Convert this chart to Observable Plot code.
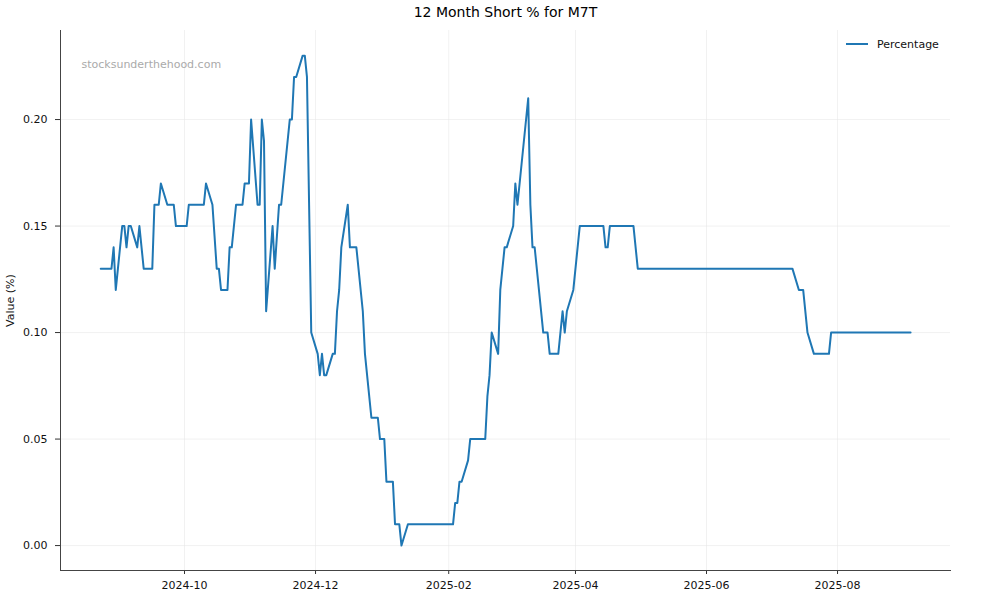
<!DOCTYPE html>
<html>
<head>
<meta charset="utf-8">
<script src="https://cdn.jsdelivr.net/npm/d3@7"></script>
<script src="https://cdn.jsdelivr.net/npm/@observablehq/plot@0.6"></script>
<style>
  html, body { margin: 0; padding: 0; background: #fff; }
  #chart { width: 1000px; height: 600px; }
</style>
</head>
<body>
<div id="chart"></div>
<script>
const titleText = "12 Month Short % for M7T";
const yLabel = "Value (%)";
const watermark = "stocksunderthehood.com";
const seriesName = "Percentage";

const dates = [
  "2024-08-23","2024-08-28","2024-08-29","2024-08-30","2024-09-02","2024-09-03","2024-09-04","2024-09-05","2024-09-06","2024-09-09",
  "2024-09-10","2024-09-12","2024-09-16","2024-09-17","2024-09-19","2024-09-20","2024-09-23","2024-09-26","2024-09-27","2024-10-02",
  "2024-10-03","2024-10-10","2024-10-11","2024-10-14","2024-10-16","2024-10-17","2024-10-18","2024-10-21","2024-10-22","2024-10-23",
  "2024-10-25","2024-10-28","2024-10-29","2024-10-31","2024-11-01","2024-11-04","2024-11-05","2024-11-06","2024-11-07","2024-11-08",
  "2024-11-11","2024-11-12","2024-11-14","2024-11-15","2024-11-19","2024-11-20","2024-11-21","2024-11-22","2024-11-25","2024-11-26",
  "2024-11-27","2024-11-29","2024-12-02","2024-12-03","2024-12-04","2024-12-05","2024-12-06","2024-12-09","2024-12-10","2024-12-11",
  "2024-12-12","2024-12-13","2024-12-16","2024-12-17","2024-12-20","2024-12-23","2024-12-24","2024-12-27","2024-12-30","2024-12-31",
  "2025-01-02","2025-01-03","2025-01-06","2025-01-07","2025-01-09","2025-01-10","2025-01-13","2025-02-03","2025-02-04","2025-02-05",
  "2025-02-06","2025-02-07","2025-02-10","2025-02-11","2025-02-18","2025-02-19","2025-02-20","2025-02-21","2025-02-24","2025-02-25",
  "2025-02-27","2025-02-28","2025-03-03","2025-03-04","2025-03-05","2025-03-10","2025-03-11","2025-03-12","2025-03-13","2025-03-17",
  "2025-03-19","2025-03-20","2025-03-24","2025-03-26","2025-03-27","2025-03-28","2025-03-31","2025-04-03","2025-04-14","2025-04-15",
  "2025-04-16","2025-04-17","2025-04-28","2025-04-30","2025-07-11","2025-07-14","2025-07-16","2025-07-18","2025-07-21","2025-07-28",
  "2025-07-29","2025-09-04"
];
const values = [
  0.13,0.13,0.14,0.12,0.15,0.15,0.14,0.15,0.15,0.14,
  0.15,0.13,0.13,0.16,0.16,0.17,0.16,0.16,0.15,0.15,
  0.16,0.16,0.17,0.16,0.13,0.13,0.12,0.12,0.14,0.14,
  0.16,0.16,0.17,0.17,0.20,0.16,0.16,0.20,0.19,0.11,
  0.15,0.13,0.16,0.16,0.20,0.20,0.22,0.22,0.23,0.23,
  0.22,0.10,0.09,0.08,0.09,0.08,0.08,0.09,0.09,0.11,
  0.12,0.14,0.16,0.14,0.14,0.11,0.09,0.06,0.06,0.05,
  0.05,0.03,0.03,0.01,0.01,0.00,0.01,0.01,0.02,0.02,
  0.03,0.03,0.04,0.05,0.05,0.07,0.08,0.10,0.09,0.12,
  0.14,0.14,0.15,0.17,0.16,0.21,0.16,0.14,0.14,0.10,
  0.10,0.09,0.09,0.11,0.10,0.11,0.12,0.15,0.15,0.14,
  0.14,0.15,0.15,0.13,0.13,0.12,0.12,0.10,0.09,0.09,
  0.10,0.10
];
const xTicks = ["2024-10-01","2024-12-01","2025-02-01","2025-04-01","2025-06-01","2025-08-01"];
const yTicks = [0, 0.05, 0.10, 0.15, 0.20];
const xDomain = ["2024-08-04T06:30:00Z","2025-09-22T14:00:00Z"];
const yDomain = [-0.0117, 0.2418];

const data = dates.map((d, i) => ({date: new Date(d + "T00:00:00Z"), value: values[i]}));
const xTickDates = xTicks.map(d => new Date(d + "T00:00:00Z"));

const font = "'DejaVu Sans', sans-serif";
const plot = Plot.plot({
  width: 1000,
  height: 600,
  marginLeft: 60,
  marginRight: 50,
  marginTop: 30,
  marginBottom: 30,
  style: {fontFamily: font, fontSize: "11px", background: "#fff", color: "#222", overflow: "visible"},
  x: {type: "utc", domain: xDomain.map(d => new Date(d))},
  y: {domain: yDomain},
  marks: [
    Plot.gridX(xTickDates, {stroke: "#e6e6e6", strokeOpacity: 0.7, strokeWidth: 0.8}),
    Plot.gridY(yTicks, {stroke: "#e6e6e6", strokeOpacity: 0.7, strokeWidth: 0.8}),
    Plot.axisX(xTickDates, {tickFormat: d3.utcFormat("%Y-%m"), tickSize: 4, tickPadding: 7, label: null, stroke: "#333", fill: "#111"}),
    Plot.axisY(yTicks, {tickFormat: d3.format(".2f"), tickSize: 5, tickPadding: 8, label: yLabel, labelAnchor: "center", labelArrow: "none", labelOffset: 54, stroke: "#333", fill: "#111"}),
    Plot.frame({anchor: "left", stroke: "#444", strokeWidth: 1}),
    Plot.frame({anchor: "bottom", stroke: "#444", strokeWidth: 1}),
    Plot.lineY(data, {x: "date", y: "value", stroke: "#1f77b4", strokeWidth: 2}),
    Plot.text([titleText], {frameAnchor: "top", dy: -23, fontSize: 14, fill: "#000"}),
    Plot.text([watermark], {frameAnchor: "top-left", dx: 21, dy: 30, fontSize: 11, fill: "#aaa", textAnchor: "start"})
  ]
});

// legend inside plot, top right
const svg = d3.select(plot);
const lg = svg.append("g").attr("font-family", font).attr("font-size", 11).attr("text-anchor", "start");
lg.append("line").attr("x1", 846).attr("x2", 868).attr("y1", 44).attr("y2", 44)
  .attr("stroke", "#1f77b4").attr("stroke-width", 2);
lg.append("text").attr("x", 877).attr("y", 44).attr("dy", "0.35em").attr("text-anchor", "start").attr("fill", "#111").text(seriesName);

document.getElementById("chart").appendChild(plot);
</script>
</body>
</html>
